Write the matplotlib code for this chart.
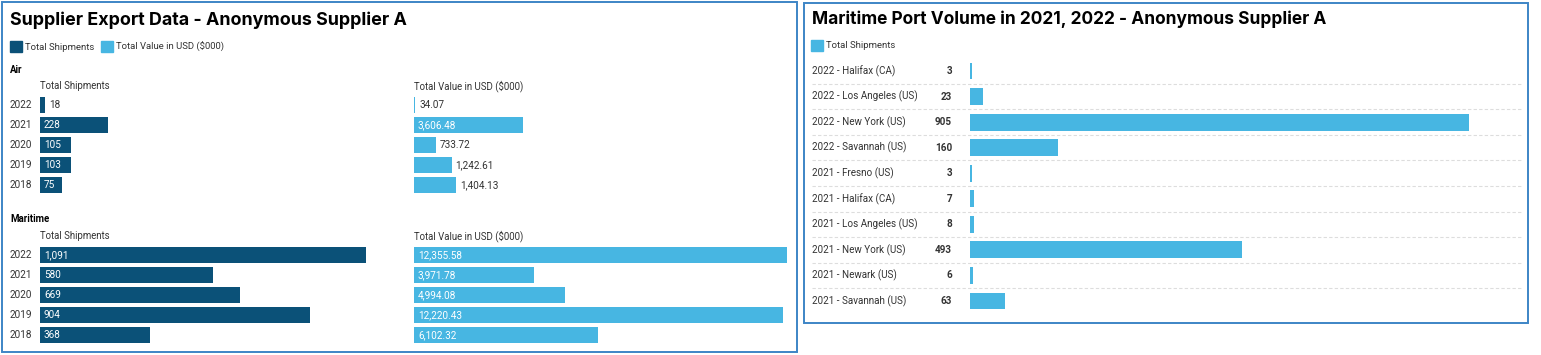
import matplotlib.pyplot as plt
import matplotlib.transforms as mtransforms
from matplotlib.patches import Rectangle
import numpy as np

plt.rcParams["font.family"] = ["Roboto", "DejaVu Sans"]

W, H = 1541, 355
DARK = "#0b5178"
LIGHT = "#47b6e2"
TXT = "#333333"
BORDER = "#3d85c6"

# data
years = ["2022", "2021", "2020", "2019", "2018"]
air_shipments = [18, 228, 105, 103, 75]
air_value = [34.07, 3606.48, 733.72, 1242.61, 1404.13]
sea_shipments = [1091, 580, 669, 904, 368]
sea_value = [12355.58, 3971.78, 4994.08, 12220.43, 6102.32]

ports = ["2022 - Halifax (CA)", "2022 - Los Angeles (US)", "2022 - New York (US)",
         "2022 - Savannah (US)", "2021 - Fresno (US)", "2021 - Halifax (CA)",
         "2021 - Los Angeles (US)", "2021 - New York (US)", "2021 - Newark (US)",
         "2021 - Savannah (US)"]
port_shipments = [3, 23, 905, 160, 3, 7, 8, 493, 6, 63]


def box(x0, y0, x1, y1):
    return [x0 / W, 1 - y1 / H, (x1 - x0) / W, (y1 - y0) / H]


fig = plt.figure(figsize=(W / 100, H / 100), dpi=100, facecolor="white")

# background overlay in pixel coordinates
bg = fig.add_axes([0, 0, 1, 1])
bg.set_xlim(0, W)
bg.set_ylim(H, 0)
bg.axis("off")
bg.add_patch(Rectangle((2, 2), 795, 350, fill=False, edgecolor=BORDER, lw=1.4))
bg.add_patch(Rectangle((804, 3), 724, 320, fill=False, edgecolor=BORDER, lw=1.4))

bg.text(10, 20, "Supplier Export Data - Anonymous Supplier A", fontsize=12.9,
        fontweight="bold", family=["Inter", "DejaVu Sans"], va="center", color="black")
bg.text(812, 19, "Maritime Port Volume in 2021, 2022 - Anonymous Supplier A", fontsize=12.5,
        fontweight="bold", family=["Inter", "DejaVu Sans"], va="center", color="black")

# legends
bg.add_patch(Rectangle((10, 41), 12, 11, color=DARK))
bg.text(25, 47, "Total Shipments", fontsize=6.8, va="center", color=TXT)
bg.add_patch(Rectangle((101, 41), 12, 11, color=LIGHT))
bg.text(116, 47, "Total Value in USD ($000)", fontsize=6.8, va="center", color=TXT)
bg.add_patch(Rectangle((811, 40), 12, 11, color=LIGHT))
bg.text(826, 45.5, "Total Shipments", fontsize=6.8, va="center", color=TXT)

# section headers
for y, name in [(70, "Air"), (219, "Maritime")]:
    bg.text(10, y, name, fontsize=6.9, fontweight="bold", va="center", color="black")
for y in (86, 236):
    bg.text(40, y, "Total Shipments", fontsize=6.9, va="center", color=TXT)
    bg.text(414, y, "Total Value in USD ($000)", fontsize=6.9, va="center", color=TXT)

ship_max = max(max(air_shipments), max(sea_shipments))
value_max = max(max(air_value), max(sea_value))


def bar_group(x0, x1, y0, y1, vals, xmax, color, fmt, labels_years):
    ax = fig.add_axes(box(x0, y0, x1, y1))
    pos = np.arange(len(vals))
    ax.barh(pos, vals, height=0.83, color=color)
    ax.set_xlim(0, xmax)
    ax.set_ylim(len(vals) - 0.5, -0.5)
    ax.axis("off")
    px_per_unit = (x1 - x0) / xmax
    off = mtransforms.offset_copy(ax.transData, fig=fig, x=4, y=0, units="dots")
    for i, v in enumerate(vals):
        s = fmt(v)
        bar_px = v * px_per_unit
        if len(s) * 5.8 + 8 <= bar_px:
            ax.text(0, i, s, transform=off, fontsize=7.2, va="center",
                    ha="left", color="white")
        else:
            ax.text(v, i, s, transform=off, fontsize=7.2, va="center",
                    ha="left", color=TXT)
    if labels_years:
        tr = mtransforms.blended_transform_factory(bg.transData, ax.transData)
        for i, yr in enumerate(years):
            ax.text(10, i, yr, transform=tr, fontsize=7.2, va="center",
                    ha="left", color=TXT)
    return ax


int_fmt = lambda v: f"{v:,}"
val_fmt = lambda v: f"{v:,.2f}"

bar_group(40, 366, 95, 195, air_shipments, ship_max, DARK, int_fmt, True)
bar_group(414, 787, 95, 195, air_value, value_max, LIGHT, val_fmt, False)
bar_group(40, 366, 245, 345, sea_shipments, ship_max, DARK, int_fmt, True)
bar_group(414, 787, 245, 345, sea_value, value_max, LIGHT, val_fmt, False)

# right panel: port volume
rx0, rx1 = 970, 1522
ax_r = fig.add_axes(box(rx0, 58.2, rx1, 313.8))
pos = np.arange(len(ports))
port_max = max(port_shipments)
ax_r.barh(pos, port_shipments, height=0.66, color=LIGHT)
ax_r.set_xlim(0, port_max * (rx1 - rx0) / 499)
ax_r.set_ylim(len(ports) - 0.5, -0.5)
ax_r.axis("off")
tr = mtransforms.blended_transform_factory(bg.transData, ax_r.transData)
for i, (name, v) in enumerate(zip(ports, port_shipments)):
    ax_r.text(812, i, name, transform=tr, fontsize=7.1, va="center", ha="left", color=TXT)
    ax_r.text(952, i, f"{v:,}", transform=tr, fontsize=7.1, va="center", ha="right",
              color=TXT, fontweight="bold")
for i in range(len(ports) - 1):
    ax_r.plot([812, 1522], [i + 0.5, i + 0.5], transform=tr, color="#dddddd",
              lw=0.8, ls=(0, (3, 2)), clip_on=False)

fig.savefig("out.png", dpi=100, facecolor="white")
